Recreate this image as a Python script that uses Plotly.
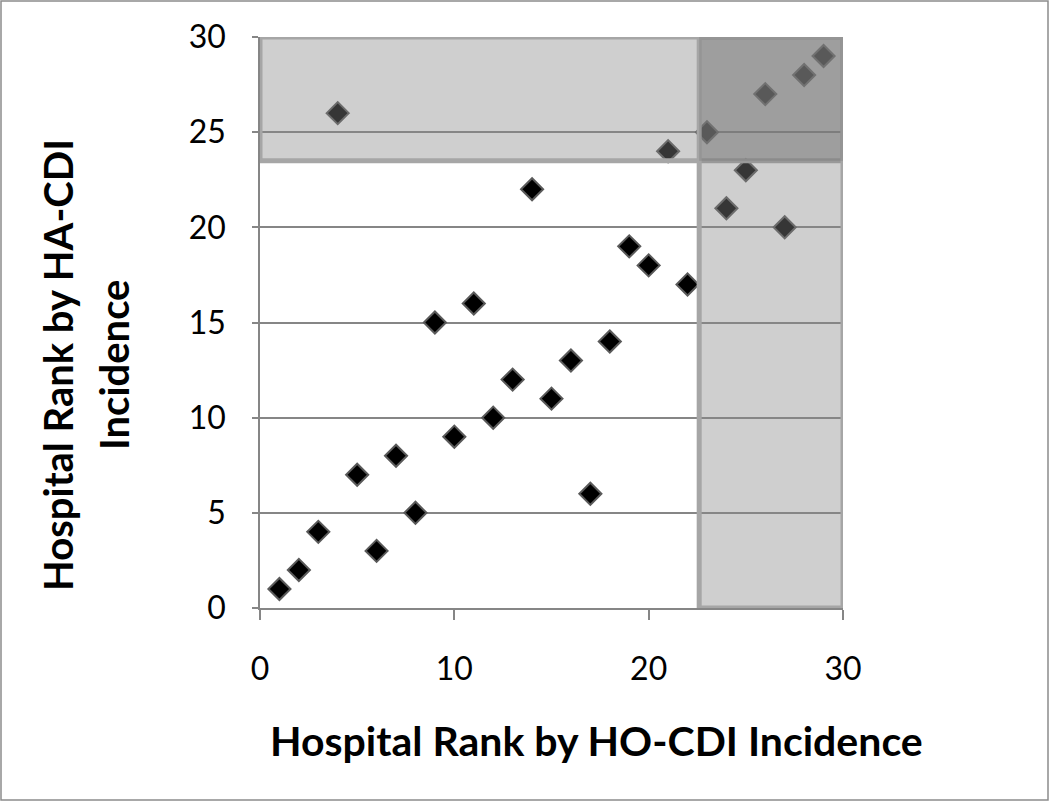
import plotly.graph_objects as go

# Data: hospital ranks
ho_rank = [1, 2, 3, 4, 5, 6, 7, 8, 9, 10, 11, 12, 13, 14, 15, 16, 17, 18, 19, 20,
           21, 22, 23, 24, 25, 26, 27, 28, 29]
ha_rank = [1, 2, 4, 26, 7, 3, 8, 5, 15, 9, 16, 10, 12, 22, 11, 13, 6, 14, 19, 18,
           24, 17, 25, 21, 23, 27, 20, 28, 29]

x_ticks = [0, 10, 20, 30]
y_ticks = [0, 5, 10, 15, 20, 25, 30]

x_title = "Hospital Rank by HO-CDI Incidence"
y_title_lines = ["Hospital Rank by HA-CDI", "Incidence"]

# highlighted zones (thresholds)
x_cut = 22.6
y_cut = 23.5
axis_max = 30

font_family = "Lato, 'Open Sans', sans-serif"

PW, PH = 583, 571  # plot area size in px
L, T = 260, 37


def px_x(p):
    return (p - L) / PW


def px_y(p):
    return (T + PH - p) / PH


fig = go.Figure()
fig.add_trace(go.Scatter(
    x=ho_rank, y=ha_rank, mode="markers",
    marker=dict(symbol="diamond", size=17, color="black",
                line=dict(color="#5a5a5a", width=2)),
    showlegend=False, hoverinfo="x+y",
))

shade = "rgba(136,136,136,0.4)"
border = dict(color="#a6a6a6", width=5)
fig.add_shape(type="rect", xref="x", yref="y", x0=0, x1=axis_max, y0=y_cut, y1=axis_max,
              fillcolor=shade, line=border, layer="above")
fig.add_shape(type="rect", xref="x", yref="y", x0=x_cut, x1=axis_max, y0=0, y1=axis_max,
              fillcolor=shade, line=border, layer="above")
fig.add_shape(type="rect", xref="x", yref="y", x0=x_cut, x1=axis_max, y0=y_cut, y1=axis_max,
              fillcolor="rgba(100,100,100,0.25)", line=dict(width=0), layer="above")
# outer frame
fig.add_shape(type="rect", xref="paper", yref="paper",
              x0=px_x(1), x1=px_x(1048), y0=px_y(800), y1=px_y(1),
              line=dict(color="#8c8c8c", width=1.5), fillcolor="rgba(0,0,0,0)", layer="below")

# axis titles as annotations
fig.add_annotation(text="<b>%s</b>" % x_title, xref="paper", yref="paper",
                   x=px_x(596), y=px_y(740), xanchor="center", yanchor="middle",
                   showarrow=False, font=dict(size=41, family=font_family, color="black"))
for cx, line in zip([58, 114], y_title_lines):
    fig.add_annotation(text="<b>%s</b>" % line, xref="paper", yref="paper",
                       x=px_x(cx), y=px_y(365), xanchor="center", yanchor="middle",
                       textangle=-90, showarrow=False,
                       font=dict(size=40, family=font_family, color="black"))

fig.update_layout(
    width=1050, height=802,
    margin=dict(l=L, r=1050 - L - PW, t=T, b=802 - T - PH),
    paper_bgcolor="white", plot_bgcolor="white",
    font=dict(family=font_family, color="black"),
    xaxis=dict(
        range=[0, axis_max], tickvals=x_ticks, ticks="outside", ticklen=10,
        tickcolor="#868686", tickwidth=1.5, showline=True, linecolor="#868686", linewidth=1.5,
        showgrid=False, zeroline=False, tickfont=dict(size=32), ticklabelstandoff=22,
    ),
    yaxis=dict(
        range=[0, axis_max], tickvals=y_ticks, ticks="outside", ticklen=6,
        tickcolor="#868686", tickwidth=1.5, showline=True, linecolor="#868686", linewidth=1.5,
        showgrid=True, gridcolor="#868686", gridwidth=1.5, zeroline=False,
        tickfont=dict(size=32), ticklabelstandoff=20,
    ),
)

fig.write_html("out.html", config={"displayModeBar": False},
               post_script="document.body.style.margin='0';")
